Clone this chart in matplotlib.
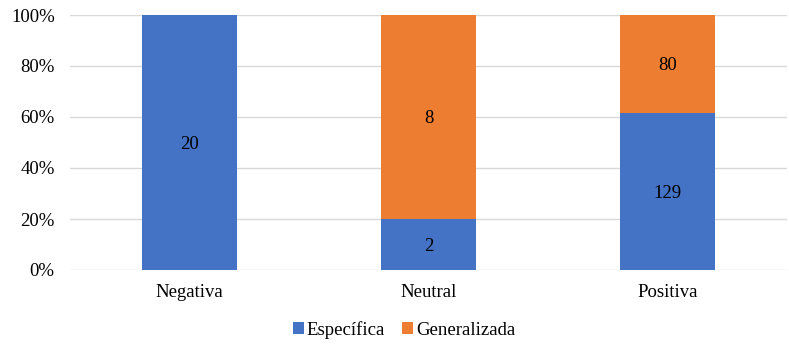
import matplotlib
matplotlib.use("Agg")
import matplotlib.pyplot as plt
import numpy as np

categories = ["Negativa", "Neutral", "Positiva"]
especifica = [20, 2, 129]
generalizada = [0, 8, 80]
series_names = ["Específica", "Generalizada"]
colors = ["#4472C4", "#ED7D31"]
yticks = [0, 20, 40, 60, 80, 100]

plt.rcParams["font.family"] = ["Liberation Serif", "DejaVu Serif"]

fig = plt.figure(figsize=(7.89, 3.44), dpi=100)
ax = fig.add_axes([70 / 789, 74 / 344, 717 / 789, 255 / 344])

esp = np.array(especifica, dtype=float)
gen = np.array(generalizada, dtype=float)
tot = esp + gen
esp_pct = esp / tot * 100
gen_pct = gen / tot * 100
x = np.arange(len(categories))
w = 0.4

b1 = ax.bar(x, esp_pct, w, color=colors[0], label=series_names[0], zorder=3)
b2 = ax.bar(x, gen_pct, w, bottom=esp_pct, color=colors[1], label=series_names[1], zorder=3)

for i in range(len(categories)):
    if esp[i] > 0:
        ax.text(x[i], esp_pct[i] / 2, f"{int(esp[i])}", ha="center",
                va="center_baseline", fontsize=13.5, color="black", zorder=4)
    if gen[i] > 0:
        ax.text(x[i], esp_pct[i] + gen_pct[i] / 2, f"{int(gen[i])}", ha="center",
                va="center_baseline", fontsize=13.5, color="black", zorder=4)

ax.set_xlim(-0.5, len(categories) - 0.5)
ax.set_ylim(0, 100)
ax.set_yticks(yticks)
ax.set_yticklabels([f"{t}%" for t in yticks])
ax.set_xticks(x)
ax.set_xticklabels(categories)
ax.tick_params(axis="both", length=0, labelsize=13.5, colors="black")
ax.tick_params(axis="y", pad=11)
ax.tick_params(axis="x", pad=10)
ax.grid(axis="y", color="#D9D9D9", linewidth=1, zorder=0)
for s in ax.spines.values():
    s.set_visible(False)
ax.set_axisbelow(True)

fig.legend(handles=[b1, b2], labels=series_names, loc="center",
           bbox_to_anchor=(404 / 789, 1 - 330 / 344), ncol=2, frameon=False,
           fontsize=13.5, handlelength=0.6, handleheight=0.6, handletextpad=0.15,
           columnspacing=0.9)

fig.savefig("out.png", dpi=100)
